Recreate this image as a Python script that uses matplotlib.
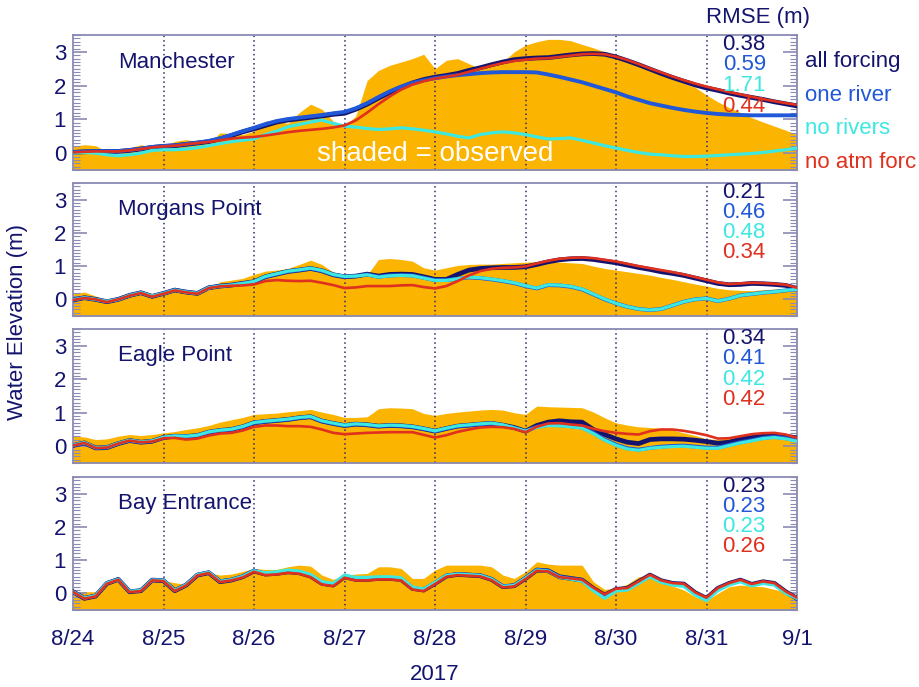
import numpy as np
import matplotlib.pyplot as plt
from matplotlib.ticker import MultipleLocator

plt.rcParams['font.family'] = ['Liberation Sans', 'DejaVu Sans']

# 3-hourly samples, days since 8/24 00:00
t = np.arange(65) / 8.0
day_labels = ['8/24', '8/25', '8/26', '8/27', '8/28', '8/29', '8/30', '8/31', '9/1']

stations = ['Manchester', 'Morgans Point', 'Eagle Point', 'Bay Entrance']
run_names = ['all forcing', 'one river', 'no rivers', 'no atm forc']

# Manchester
man_obs = [0.2, 0.25, 0.22, 0.05, -0.05, 0.15, 0.25, 0.15, 0.15, 0.35, 0.4, 0.33, 0.3, 0.6, 0.58, 0.55,
           0.65, 0.95, 0.95, 0.88, 1.2, 1.45, 1.3, 0.95, 0.8, 1.1, 2.15, 2.45, 2.6, 2.7, 2.8, 2.93,
           2.5, 2.75, 2.8, 2.65, 2.5, 2.6, 2.7, 3.0, 3.2, 3.3, 3.37, 3.37, 3.33, 3.22, 3.12, 3.0,
           2.88, 2.72, 2.57, 2.45, 2.32, 2.2, 2.07, 1.95, 1.72, 1.52, 1.35, 1.2, 1.05, 0.92, 0.8, 0.68,
           0.55]
man_af = [0.02, 0.04, 0.05, 0.05, 0.05, 0.08, 0.12, 0.17, 0.2, 0.22, 0.26, 0.3, 0.34, 0.42, 0.52, 0.63,
          0.72, 0.82, 0.92, 0.98, 1.02, 1.06, 1.1, 1.15, 1.18, 1.3, 1.45, 1.63, 1.8, 1.95, 2.08, 2.18,
          2.25, 2.3, 2.36, 2.45, 2.53, 2.62, 2.7, 2.77, 2.8, 2.82, 2.83, 2.87, 2.91, 2.94, 2.95, 2.93,
          2.85, 2.74, 2.62, 2.49, 2.36, 2.24, 2.13, 2.02, 1.93, 1.86, 1.78, 1.71, 1.65, 1.59, 1.52, 1.46,
          1.4]
man_onr = [0.03, 0.05, 0.06, 0.06, 0.06, 0.09, 0.13, 0.18, 0.21, 0.23, 0.27, 0.31, 0.36, 0.44, 0.54, 0.65,
           0.75, 0.86, 0.95, 1.01, 1.05, 1.09, 1.13, 1.18, 1.22, 1.33, 1.48, 1.66, 1.83, 1.97, 2.08, 2.16,
           2.22, 2.27, 2.31, 2.34, 2.37, 2.39, 2.4, 2.4, 2.4, 2.39, 2.33, 2.26, 2.18, 2.1, 2.0, 1.9,
           1.8, 1.68, 1.58, 1.48, 1.41, 1.34, 1.28, 1.23, 1.19, 1.16, 1.14, 1.13, 1.12, 1.12, 1.12, 1.12,
           1.12]
man_nor = [0.0, 0.02, 0.0, -0.05, -0.08, -0.05, 0.0, 0.08, 0.1, 0.1, 0.12, 0.16, 0.22, 0.28, 0.34, 0.38,
           0.42, 0.55, 0.65, 0.78, 0.85, 0.92, 0.98, 0.88, 0.8, 0.77, 0.73, 0.7, 0.72, 0.75, 0.72, 0.68,
           0.63, 0.57, 0.5, 0.45, 0.55, 0.6, 0.63, 0.6, 0.55, 0.48, 0.42, 0.43, 0.45, 0.38, 0.3, 0.22,
           0.15, 0.08, 0.02, -0.03, -0.05, -0.08, -0.1, -0.1, -0.09, -0.07, -0.05, -0.03, -0.01, 0.02, 0.06, 0.1,
           0.15]
man_noa = [0.02, 0.04, 0.05, 0.05, 0.05, 0.08, 0.12, 0.17, 0.2, 0.22, 0.26, 0.3, 0.33, 0.38, 0.43, 0.46,
           0.48, 0.52, 0.57, 0.62, 0.66, 0.69, 0.72, 0.76, 0.82, 0.97, 1.2, 1.45, 1.68, 1.88, 2.03, 2.13,
           2.21, 2.26, 2.32, 2.41, 2.5, 2.59, 2.67, 2.73, 2.77, 2.8, 2.81, 2.85, 2.89, 2.93, 2.94, 2.93,
           2.86, 2.76, 2.64, 2.51, 2.39, 2.27, 2.16, 2.06, 1.97, 1.89, 1.81, 1.74, 1.67, 1.6, 1.54, 1.48,
           1.43]
man_rmse = [0.38, 0.59, 1.71, 0.44]

# Morgans Point
mor_obs = [0.18, 0.22, 0.1, -0.02, 0.05, 0.18, 0.23, 0.12, 0.23, 0.36, 0.28, 0.2, 0.28, 0.53, 0.58, 0.63,
           0.75, 0.85, 0.88, 0.93, 1.05, 1.18, 1.05, 0.82, 0.75, 0.7, 0.73, 1.2, 1.23, 1.2, 1.15, 0.95,
           0.88, 0.95, 1.02, 1.05, 1.06, 1.06, 1.08, 1.1, 1.12, 1.13, 1.13, 1.12, 1.1, 1.08, 1.0, 0.93,
           0.88, 0.83, 0.78, 0.73, 0.66, 0.6, 0.53, 0.46, 0.4, 0.33, 0.29, 0.27, 0.26, 0.29, 0.31, 0.33,
           0.33]
mor_af = [-0.02, 0.05, 0.0, -0.07, 0.0, 0.12, 0.2, 0.09, 0.18, 0.28, 0.22, 0.18, 0.35, 0.4, 0.43, 0.48,
          0.53, 0.68, 0.76, 0.84, 0.88, 0.93, 0.86, 0.74, 0.68, 0.7, 0.76, 0.7, 0.75, 0.76, 0.75, 0.68,
          0.6, 0.6, 0.75, 0.88, 0.93, 0.95, 0.96, 0.96, 0.98, 1.05, 1.13, 1.19, 1.22, 1.23, 1.2, 1.15,
          1.1, 1.03, 0.96, 0.9, 0.83, 0.78, 0.72, 0.64, 0.56, 0.48, 0.44, 0.45, 0.48, 0.47, 0.45, 0.42,
          0.33]
mor_onr = [-0.02, 0.05, 0.0, -0.07, 0.0, 0.12, 0.2, 0.09, 0.18, 0.28, 0.22, 0.18, 0.35, 0.4, 0.43, 0.48,
           0.53, 0.68, 0.76, 0.84, 0.88, 0.93, 0.86, 0.74, 0.68, 0.7, 0.75, 0.68, 0.72, 0.73, 0.72, 0.65,
           0.58, 0.58, 0.62, 0.66, 0.64, 0.6, 0.55, 0.49, 0.4, 0.33, 0.43, 0.42, 0.38, 0.3, 0.15, 0.0,
           -0.12, -0.22, -0.29, -0.32, -0.29, -0.18, -0.07, 0.0, 0.03, -0.05, 0.02, 0.12, 0.16, 0.2, 0.23, 0.27,
           0.3]
mor_nor = [-0.01, 0.05, 0.0, -0.06, 0.0, 0.12, 0.2, 0.1, 0.18, 0.28, 0.22, 0.18, 0.35, 0.4, 0.43, 0.48,
           0.54, 0.69, 0.77, 0.85, 0.89, 0.94, 0.87, 0.75, 0.69, 0.7, 0.74, 0.67, 0.71, 0.72, 0.71, 0.64,
           0.57, 0.57, 0.62, 0.67, 0.65, 0.61, 0.56, 0.5, 0.41, 0.34, 0.44, 0.43, 0.39, 0.31, 0.16, 0.01,
           -0.12, -0.22, -0.29, -0.32, -0.29, -0.18, -0.07, 0.0, 0.03, -0.05, 0.02, 0.12, 0.16, 0.2, 0.23, 0.27,
           0.3]
mor_noa = [-0.02, 0.04, 0.0, -0.08, 0.0, 0.11, 0.19, 0.08, 0.17, 0.27, 0.21, 0.17, 0.34, 0.39, 0.41, 0.42,
           0.45, 0.55, 0.58, 0.56, 0.55, 0.56, 0.5, 0.43, 0.34, 0.36, 0.4, 0.4, 0.4, 0.42, 0.43, 0.37,
           0.33, 0.4, 0.55, 0.72, 0.85, 0.92, 0.95, 0.96, 0.99, 1.08, 1.16, 1.22, 1.25, 1.26, 1.24, 1.19,
           1.14, 1.07, 1.0, 0.94, 0.88, 0.82, 0.75, 0.67, 0.59, 0.51, 0.46, 0.48, 0.5, 0.49, 0.47, 0.44,
           0.35]
mor_rmse = [0.21, 0.46, 0.48, 0.34]

# Eagle Point
eag_obs = [0.3, 0.28, 0.2, 0.22, 0.3, 0.35, 0.32, 0.35, 0.4, 0.44, 0.5, 0.55, 0.62, 0.72, 0.79, 0.86,
           0.95, 0.97, 0.99, 1.03, 1.06, 1.1, 1.02, 0.95, 0.86, 0.86, 0.88, 1.12, 1.15, 1.14, 1.12, 0.98,
           0.92, 0.98, 1.02, 1.05, 1.08, 1.1, 1.08, 1.0, 0.95, 1.2, 1.18, 1.17, 1.16, 1.15, 1.02, 0.85,
           0.7, 0.63, 0.58, 0.56, 0.54, 0.48, 0.4, 0.32, 0.22, 0.2, 0.25, 0.3, 0.35, 0.33, 0.32, 0.28,
           0.2]
eag_af = [0.02, 0.1, -0.05, -0.04, 0.08, 0.17, 0.12, 0.15, 0.26, 0.3, 0.29, 0.32, 0.42, 0.47, 0.5, 0.58,
          0.7, 0.74, 0.77, 0.8, 0.85, 0.88, 0.75, 0.68, 0.62, 0.66, 0.64, 0.6, 0.62, 0.61, 0.58, 0.52,
          0.45, 0.53, 0.6, 0.63, 0.66, 0.68, 0.63, 0.56, 0.45, 0.62, 0.72, 0.76, 0.73, 0.72, 0.5, 0.35,
          0.22, 0.12, 0.08, 0.2, 0.22, 0.22, 0.21, 0.18, 0.14, 0.09, 0.12, 0.22, 0.26, 0.3, 0.32, 0.3,
          0.25]
eag_onr = [0.02, 0.1, -0.05, -0.04, 0.08, 0.17, 0.12, 0.15, 0.26, 0.3, 0.29, 0.32, 0.42, 0.47, 0.5, 0.58,
           0.7, 0.74, 0.77, 0.8, 0.85, 0.88, 0.75, 0.68, 0.62, 0.66, 0.64, 0.6, 0.62, 0.61, 0.58, 0.52,
           0.45, 0.53, 0.6, 0.63, 0.66, 0.68, 0.63, 0.55, 0.45, 0.58, 0.64, 0.63, 0.6, 0.56, 0.4, 0.2,
           0.05, -0.06, -0.1, -0.05, -0.01, 0.01, 0.02, -0.01, -0.04, -0.04, 0.04, 0.12, 0.18, 0.25, 0.28, 0.24,
           0.17]
eag_nor = [0.03, 0.11, -0.04, -0.03, 0.09, 0.18, 0.13, 0.16, 0.27, 0.31, 0.3, 0.33, 0.43, 0.48, 0.51, 0.59,
           0.71, 0.75, 0.78, 0.81, 0.86, 0.89, 0.76, 0.69, 0.63, 0.67, 0.65, 0.61, 0.63, 0.62, 0.59, 0.53,
           0.46, 0.54, 0.61, 0.64, 0.67, 0.69, 0.64, 0.55, 0.45, 0.56, 0.62, 0.61, 0.58, 0.54, 0.38, 0.18,
           0.03, -0.08, -0.12, -0.06, -0.03, -0.01, 0.0, -0.03, -0.06, -0.06, 0.02, 0.1, 0.16, 0.23, 0.26, 0.22,
           0.15]
eag_noa = [0.02, 0.1, -0.05, -0.04, 0.08, 0.17, 0.12, 0.14, 0.24, 0.25, 0.2, 0.23, 0.32, 0.38, 0.4, 0.47,
           0.58, 0.62, 0.62, 0.6, 0.6, 0.58, 0.5, 0.4, 0.36, 0.38, 0.4, 0.41, 0.42, 0.42, 0.42, 0.34,
           0.26, 0.33, 0.43, 0.5, 0.56, 0.58, 0.57, 0.52, 0.42, 0.58, 0.68, 0.69, 0.65, 0.62, 0.52, 0.45,
           0.4, 0.37, 0.35, 0.45, 0.5, 0.5, 0.46, 0.4, 0.33, 0.23, 0.24, 0.3, 0.36, 0.39, 0.4, 0.35,
           0.25]
eag_rmse = [0.34, 0.41, 0.42, 0.42]

# Bay Entrance
bay_obs = [0.05, 0.05, 0.05, 0.3, 0.38, 0.12, 0.12, 0.35, 0.38, 0.32, 0.27, 0.58, 0.62, 0.55, 0.58, 0.66,
           0.75, 0.72, 0.72, 0.8, 0.85, 0.82, 0.55, 0.42, 0.55, 0.58, 0.6, 0.8, 0.8, 0.75, 0.45, 0.45,
           0.7, 0.85, 0.85, 0.85, 0.85, 0.8, 0.55, 0.45, 0.65, 0.95, 0.88, 0.85, 0.85, 0.85, 0.35, 0.12,
           0.15, 0.28, 0.5, 0.55, 0.32, 0.22, 0.1, -0.1, -0.22, 0.0, 0.2, 0.25, 0.22, 0.2, 0.12, 0.05,
           -0.1]
bay_af = [0.05, -0.15, -0.08, 0.3, 0.42, 0.05, 0.08, 0.4, 0.38, 0.08, 0.25, 0.55, 0.62, 0.35, 0.4, 0.5,
          0.67, 0.58, 0.6, 0.65, 0.62, 0.52, 0.3, 0.25, 0.5, 0.42, 0.42, 0.45, 0.45, 0.42, 0.15, 0.1,
          0.3, 0.52, 0.57, 0.55, 0.53, 0.42, 0.2, 0.23, 0.45, 0.7, 0.68, 0.5, 0.45, 0.4, 0.15, -0.05,
          0.12, 0.15, 0.35, 0.55, 0.38, 0.3, 0.28, 0.02, -0.15, 0.15, 0.3, 0.4, 0.27, 0.35, 0.3, 0.05,
          -0.15]
bay_onr = [0.05, -0.14, -0.07, 0.31, 0.42, 0.06, 0.09, 0.4, 0.39, 0.09, 0.26, 0.56, 0.63, 0.36, 0.41, 0.51,
           0.68, 0.59, 0.61, 0.66, 0.63, 0.53, 0.31, 0.26, 0.51, 0.43, 0.43, 0.46, 0.46, 0.43, 0.16, 0.11,
           0.31, 0.53, 0.58, 0.56, 0.54, 0.43, 0.21, 0.24, 0.46, 0.71, 0.68, 0.5, 0.45, 0.4, 0.12, -0.1,
           0.1, 0.13, 0.33, 0.53, 0.36, 0.28, 0.25, -0.01, -0.18, 0.12, 0.28, 0.38, 0.25, 0.33, 0.28, 0.03,
           -0.15]
bay_nor = [0.05, -0.14, -0.07, 0.31, 0.42, 0.06, 0.09, 0.4, 0.39, 0.09, 0.26, 0.56, 0.63, 0.36, 0.41, 0.51,
           0.68, 0.62, 0.65, 0.7, 0.67, 0.57, 0.35, 0.3, 0.55, 0.48, 0.48, 0.5, 0.5, 0.47, 0.19, 0.13,
           0.33, 0.54, 0.58, 0.56, 0.54, 0.43, 0.21, 0.24, 0.46, 0.7, 0.67, 0.49, 0.43, 0.37, 0.08, -0.15,
           0.07, 0.1, 0.3, 0.5, 0.33, 0.25, 0.21, -0.05, -0.22, 0.08, 0.25, 0.35, 0.22, 0.3, 0.25, 0.0,
           -0.15]
bay_noa = [0.05, -0.16, -0.09, 0.29, 0.41, 0.04, 0.07, 0.39, 0.37, 0.07, 0.24, 0.54, 0.61, 0.34, 0.39, 0.48,
           0.65, 0.55, 0.57, 0.62, 0.59, 0.49, 0.27, 0.22, 0.47, 0.39, 0.39, 0.42, 0.42, 0.39, 0.12, 0.07,
           0.28, 0.5, 0.55, 0.53, 0.51, 0.4, 0.18, 0.21, 0.43, 0.68, 0.66, 0.49, 0.45, 0.41, 0.17, -0.03,
           0.14, 0.16, 0.36, 0.56, 0.39, 0.31, 0.29, 0.03, -0.13, 0.16, 0.31, 0.41, 0.28, 0.36, 0.31, 0.06,
           -0.13]
bay_rmse = [0.23, 0.23, 0.23, 0.26]

panels = [
    (man_obs, [man_af, man_onr, man_nor, man_noa], man_rmse),
    (mor_obs, [mor_af, mor_onr, mor_nor, mor_noa], mor_rmse),
    (eag_obs, [eag_af, eag_onr, eag_nor, eag_noa], eag_rmse),
    (bay_obs, [bay_af, bay_onr, bay_nor, bay_noa], bay_rmse),
]

navy = '#14146e'
run_colors = ['#14146e', '#2058d8', '#3ce8e0', '#e0301e']
run_widths = [3.4, 2.8, 2.3, 1.9]
obs_color = '#fbb400'
frame_color = '#8a8ab4'
grid_color = '#2a2a74'

W, H = 920, 687
fig = plt.figure(figsize=(W / 100, H / 100), dpi=100)
x0, x1 = 73, 797
tops = [35, 183, 329, 477]
bots = [170, 316, 463, 610]

for k, (obs, runs, rmse) in enumerate(panels):
    ax = fig.add_axes([x0 / W, 1 - bots[k] / H, (x1 - x0) / W, (bots[k] - tops[k]) / H])
    ax.fill_between(t, -0.5, obs, color=obs_color, lw=0, zorder=1)
    for d in range(1, 8):
        ax.axvline(d, color=grid_color, ls=(0, (1, 2)), lw=1.1, zorder=2)
    for y, c, w in zip(runs, run_colors, run_widths):
        ax.plot(t, y, color=c, lw=w, zorder=3, solid_joinstyle='round')

    ax.set_xlim(0, 8)
    ax.set_ylim(-0.5, 3.5)
    ax.set_yticks([0, 1, 2, 3])
    ax.yaxis.set_minor_locator(MultipleLocator(0.1))
    ax.tick_params(axis='y', which='both', direction='in', left=True, right=True,
                   color=frame_color, labelcolor=navy, labelsize=16, pad=5)
    ax.tick_params(axis='y', which='major', length=10, width=1.2)
    ax.tick_params(axis='y', which='minor', length=5, width=0.8)
    ax.set_xticks(range(9))
    if k == 3:
        ax.set_xticklabels(day_labels)
    else:
        ax.set_xticklabels([])
    ax.tick_params(axis='x', length=0, labelcolor=navy, labelsize=16, pad=14)
    for s in ax.spines.values():
        s.set_color(frame_color)
        s.set_linewidth(1.3)

    ax.text(0.062, 0.8, stations[k], transform=ax.transAxes, color=navy,
            fontsize=16, va='center', ha='left')
    for i, (v, c) in enumerate(zip(rmse, run_colors)):
        ax.text(0.957, 0.93 - i * 0.152, f'{v:.2f}', transform=ax.transAxes, color=c,
                fontsize=16, ha='right', va='center', zorder=5)

    if k == 0:
        ax.text(0.5, 0.12, 'shaded = observed', transform=ax.transAxes, color='white',
                fontsize=20, ha='center', va='center', zorder=4)

# run legend to the right of the top panel
for i, (name, c) in enumerate(zip(run_names, run_colors)):
    fig.text(805 / W, 1 - (62 + i * 33.5) / H, name, color=c, fontsize=16, ha='left', va='center')

fig.text(758 / W, 1 - 18 / H, 'RMSE (m)', color=navy, fontsize=16, ha='center', va='center')
fig.text(18 / W, 1 - 322 / H, 'Water Elevation (m)', color=navy, fontsize=16,
         rotation=90, ha='center', va='center')
fig.text(435 / W, 1 - 675 / H, '2017', color=navy, fontsize=16, ha='center', va='center')

fig.savefig('out.png', dpi=100)
